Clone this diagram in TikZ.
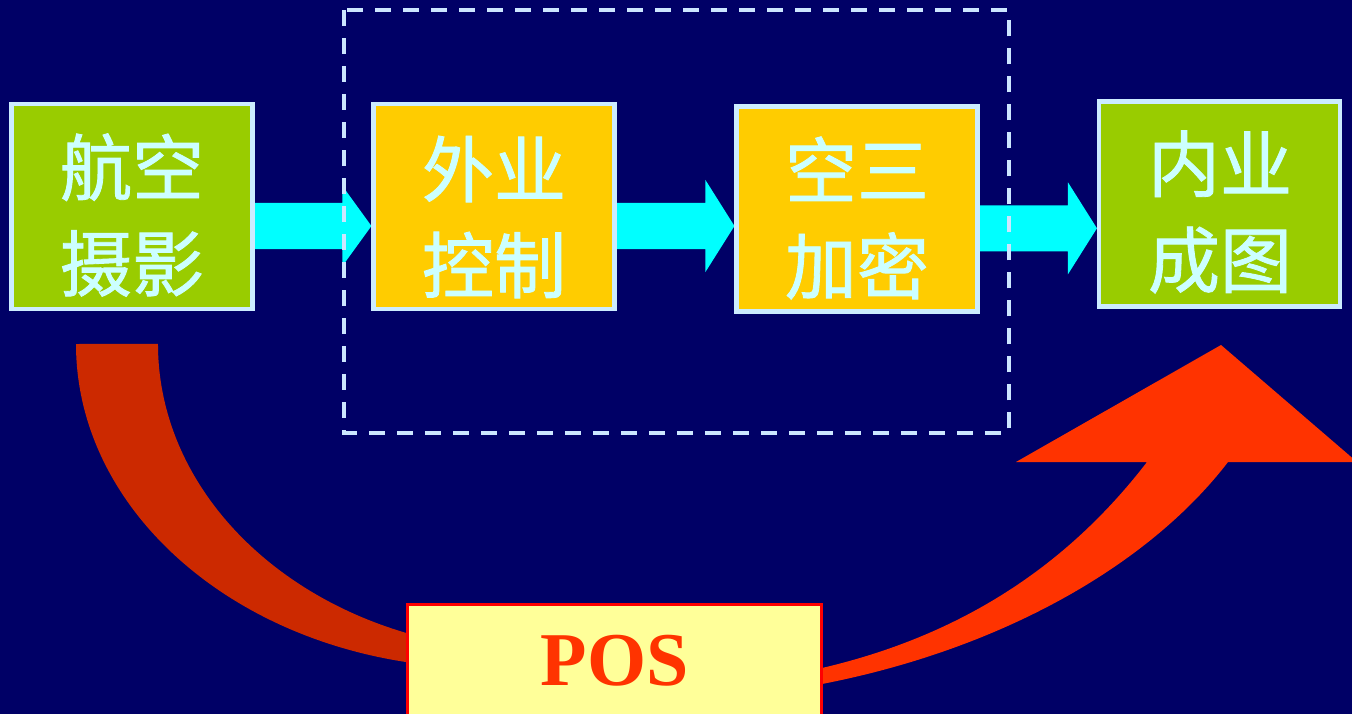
\documentclass[tikz,border=0pt]{standalone}
\usepackage{fontspec}
\newfontfamily\cjk{Noto Sans CJK SC}[FakeBold=1.2]
\newfontfamily\posfont{Liberation Serif}
\usetikzlibrary{calc}
\definecolor{bgnavy}{HTML}{000066}
\definecolor{boxgreen}{HTML}{99CC00}
\definecolor{boxyellow}{HTML}{FFCC00}
\definecolor{boxedge}{HTML}{CCECFF}
\definecolor{boxtext}{HTML}{CCFFFF}
\definecolor{flowcyan}{HTML}{00FFFF}
\definecolor{ribbondark}{HTML}{CC2900}
\definecolor{ribbonred}{HTML}{FF3300}
\definecolor{posfill}{HTML}{FFFF99}
\definecolor{posedge}{HTML}{FF0000}
\definecolor{dashedge}{HTML}{CCE6FF}
\tikzset{
  stagebox/.style={draw=boxedge, line width=4.5pt, minimum width=241pt, minimum height=205pt, inner sep=0pt},
  greenbox/.style={stagebox, fill=boxgreen},
  yellowbox/.style={stagebox, fill=boxyellow},
  stagetext/.style={text=boxtext, align=center, inner sep=0pt, font=\cjk\fontsize{72}{96}\selectfont},
  posbox/.style={draw=posedge, fill=posfill, line width=2.5pt, minimum width=414pt, minimum height=113pt, inner sep=0pt,
    text=ribbonred, font=\posfont\bfseries\fontsize{76}{80}\selectfont},
  dashbox/.style={draw=dashedge, line width=4pt, dash pattern=on 16pt off 12pt},
}
\newcommand\flowarrow[4]{%
  \coordinate (fy) at (0,#3);
  \coordinate (fs) at (#1.east |- fy);
  \coordinate (fe) at (#2.west |- fy);
  \fill[flowcyan] ($(fs)+(0,-23)$) -- ($(fe)+(-29,-23)$) -- ($(fe)+(-29,-#4)$) -- (fe)
     -- ($(fe)+(-29,#4)$) -- ($(fe)+(-29,23)$) -- ($(fs)+(0,23)$) -- cycle;
}
\begin{document}
\begin{tikzpicture}[x=1pt,y=-1pt]
\useasboundingbox (0,0) rectangle (1352,714);
\fill[bgnavy] (0,0) rectangle (1352,714);
\clip (0,0) rectangle (1352,714);
% curved ribbons
\fill[ribbondark] (76,344) arc[start angle=180, end angle=95, x radius=408, y radius=324]
  -- (500.3,649.8) arc[start angle=95, end angle=180, x radius=375, y radius=307] -- cycle;
\fill[ribbonred] (790,674) -- (822,668) .. controls (972,633) and (1074,557) .. (1147,462)
  -- (1016,462) -- (1221,345) -- (1357,462) -- (1228,462)
  .. controls (1149,565) and (1002,649) .. (822,684) -- (790,690) -- cycle;
% box positions
\path (132,206.5) coordinate (c1) (494.2,206.5) coordinate (c2) (857.2,209.2) coordinate (c3) (1219.7,204.2) coordinate (c4);
\node[greenbox] (aero) at (c1) {};
\node[yellowbox] (field) at (c2) {};
\node[yellowbox] (aat) at (c3) {};
\node[greenbox] (office) at (c4) {};
% flow arrows
\flowarrow{aero}{field}{226}{40}
\flowarrow{field}{aat}{226}{46}
\flowarrow{aat}{office}{228.3}{46}
% boxes over arrow ends
\node[greenbox] (aeroB) at (c1) {};
\node[yellowbox] (fieldB) at (c2) {};
\node[yellowbox] (aatB) at (c3) {};
\node[greenbox] (officeB) at (c4) {};
\node[stagetext] (aerot) at (132,215) {航空\\摄影};
\node[stagetext] (fieldt) at (494,217) {外业\\控制};
\node[stagetext] (aatt) at (857,218) {空三\\加密};
\node[stagetext] (officet) at (1220,212) {内业\\成图};
% dashed group
\draw[dashbox] (344,10.3) rectangle (1008.7,433);
% POS
\node[posbox] (pos) at (614.5,661) {POS};
\end{tikzpicture}
\end{document}
